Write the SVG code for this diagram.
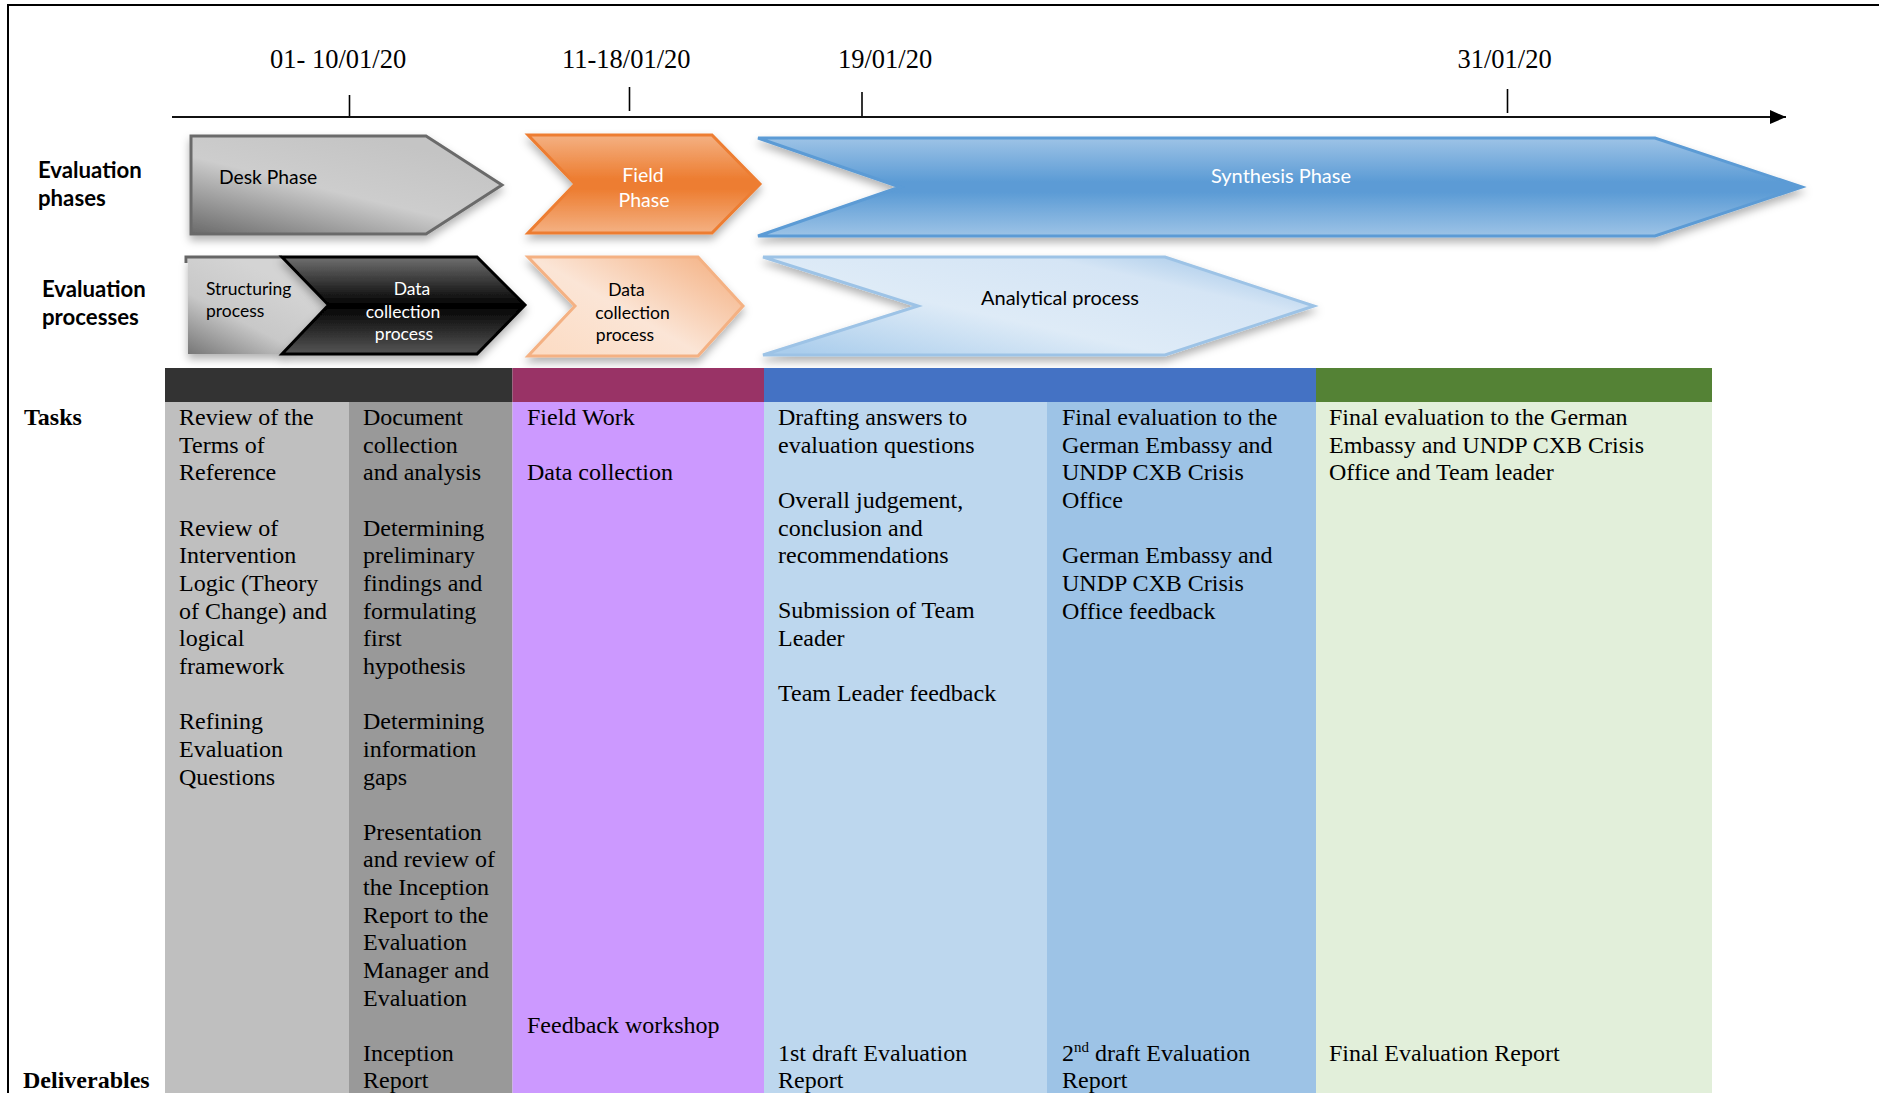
<svg xmlns="http://www.w3.org/2000/svg" width="1879" height="1093" viewBox="0 0 1879 1093">
<defs>
<style>
.date{font-family:"Liberation Serif","Times New Roman",serif;font-size:26.5px;fill:#000}
.lbl{font-family:Lato,"Liberation Sans",sans-serif;font-weight:bold;font-size:22.2px;fill:#000}
.sh{font-family:Lato,"Liberation Sans",sans-serif;fill:#000}
.w{fill:#fff}
.t{font-family:"Liberation Serif","Times New Roman",serif;font-size:24px;fill:#000}
.tb{font-family:"Liberation Serif","Times New Roman",serif;font-size:24px;font-weight:bold;fill:#000}
.tick{stroke:#000;stroke-width:1.6}
</style>
<filter id="shadow" x="-10%" y="-20%" width="120%" height="150%">
<feDropShadow dx="0" dy="5" stdDeviation="4" flood-color="#000" flood-opacity="0.3"/>
</filter>
<marker id="arrow" markerUnits="userSpaceOnUse" markerWidth="16" markerHeight="14" refX="16" refY="7" orient="auto">
<path d="M0,0 L16,7 L0,14 z" fill="#000"/>
</marker>
<linearGradient id="gDesk" x1="0" y1="1" x2="0.7" y2="0.1">
<stop offset="0" stop-color="#6a6a6a"/>
<stop offset="0.55" stop-color="#cdcdcd"/>
<stop offset="1" stop-color="#c4c4c4"/>
</linearGradient>
<linearGradient id="gStruct" x1="0" y1="1" x2="0.6" y2="0.2">
<stop offset="0" stop-color="#777"/>
<stop offset="0.5" stop-color="#c8c8c8"/>
<stop offset="1" stop-color="#d4d4d4"/>
</linearGradient>
<linearGradient id="gBlack" x1="0" y1="0" x2="0" y2="1">
<stop offset="0" stop-color="#707070"/>
<stop offset="0.5" stop-color="#000"/>
<stop offset="1" stop-color="#555"/>
</linearGradient>
<linearGradient id="gField" x1="0" y1="0" x2="0" y2="1">
<stop offset="0" stop-color="#f4b183"/>
<stop offset="0.45" stop-color="#ed7d31"/>
<stop offset="0.55" stop-color="#ed7d31"/>
<stop offset="1" stop-color="#f4b183"/>
</linearGradient>
<linearGradient id="gLOr" x1="0" y1="0.9" x2="1" y2="0.1">
<stop offset="0" stop-color="#fcdcc4"/>
<stop offset="0.45" stop-color="#fbe5d6"/>
<stop offset="1" stop-color="#f4b183"/>
</linearGradient>
<linearGradient id="gSyn" x1="0" y1="0" x2="0" y2="1">
<stop offset="0" stop-color="#9dc3e6"/>
<stop offset="0.45" stop-color="#5b9bd5"/>
<stop offset="0.55" stop-color="#5b9bd5"/>
<stop offset="1" stop-color="#9dc3e6"/>
</linearGradient>
<linearGradient id="gAna" x1="0" y1="0.9" x2="1" y2="0.1">
<stop offset="0" stop-color="#aacdec"/>
<stop offset="0.4" stop-color="#deebf7"/>
<stop offset="0.75" stop-color="#d5e5f5"/>
<stop offset="1" stop-color="#9dc3e6"/>
</linearGradient>
</defs>
<rect x="0" y="0" width="1879" height="1093" fill="#fff"/>
<g id="frame" fill="none" stroke="#000" stroke-width="2">
<path d="M8,1093 L8,5 L1879,5"/>
</g>

<g id="timeline">
<line class="tick" x1="349.5" y1="95" x2="349.5" y2="118"/>
<line class="tick" x1="629.5" y1="87" x2="629.5" y2="111"/>
<line class="tick" x1="862" y1="92" x2="862" y2="116"/>
<line class="tick" x1="1507.5" y1="89" x2="1507.5" y2="113"/>
<text class="date" x="270" y="68">01- 10/01/20</text>
<text class="date" x="562" y="68">11-18/01/20</text>
<text class="date" x="838" y="68">19/01/20</text>
<text class="date" x="1457.5" y="68">31/01/20</text>
</g>

<g id="connectors">
<line x1="172" y1="117" x2="1786" y2="117" stroke="#111" stroke-width="2" marker-end="url(#arrow)"/>
</g>

<g id="row-labels">
<text class="lbl" x="38" y="178">Evaluation</text>
<text class="lbl" x="38" y="206">phases</text>
<text class="lbl" x="42" y="297">Evaluation</text>
<text class="lbl" x="42" y="325">processes</text>
</g>

<g id="desk-phase">
<polygon points="191,136 426,136 502,185 426,234 191,234" fill="url(#gDesk)" stroke="#6b6b6b" stroke-width="3" filter="url(#shadow)"/>
<text class="sh" x="219" y="184" font-size="19.3">Desk Phase</text>
</g>
<g id="field-phase">
<polygon points="528,135 712,135 760,184 712,233 528,233 575,184" fill="url(#gField)" stroke="#ed7d31" stroke-width="3" filter="url(#shadow)"/>
<text class="sh w" x="643" y="181.5" font-size="19.5" text-anchor="middle">Field</text>
<text class="sh w" x="644" y="206.5" font-size="19.5" text-anchor="middle">Phase</text>
</g>
<g id="synthesis-phase">
<polygon points="758,138 1655,138 1802,187 1655,236 758,236 900,187" fill="url(#gSyn)" stroke="#5b9bd5" stroke-width="3" filter="url(#shadow)"/>
<text class="sh w" x="1281" y="183" font-size="20" text-anchor="middle">Synthesis Phase</text>
</g>

<g id="structuring-process">
<polygon points="188,257 282,257 328,305 282,354 188,354" fill="url(#gStruct)" filter="url(#shadow)"/>
<path d="M186,263 L186,257 L282,257" fill="none" stroke="#666" stroke-width="3"/>
<text class="sh" x="206" y="294.5" font-size="17.5">Structuring</text>
<text class="sh" x="206" y="316.5" font-size="17.5">process</text>
</g>
<g id="desk-data-collection">
<polygon points="282,257 477,257 525,305 477,354 282,354 328.5,305" fill="url(#gBlack)" stroke="#000" stroke-width="3" filter="url(#shadow)"/>
<text class="sh w" x="412" y="295" font-size="17.5" text-anchor="middle">Data</text>
<text class="sh w" x="403" y="317.5" font-size="17.5" text-anchor="middle">collection</text>
<text class="sh w" x="404" y="340" font-size="17.5" text-anchor="middle">process</text>
</g>
<g id="field-data-collection">
<polygon points="528,257 698,257 743,306 698,356 528,356 575,306" fill="url(#gLOr)" stroke="#f4b183" stroke-width="3" filter="url(#shadow)"/>
<text class="sh" x="626.5" y="295.5" font-size="17.5" text-anchor="middle">Data</text>
<text class="sh" x="632.5" y="318.5" font-size="17.5" text-anchor="middle">collection</text>
<text class="sh" x="625" y="341" font-size="17.5" text-anchor="middle">process</text>
</g>
<g id="analytical-process">
<polygon points="763,257 1165,257 1314,306 1165,355 763,355 918,306" fill="url(#gAna)" stroke="#9dc3e6" stroke-width="3" filter="url(#shadow)"/>
<text class="sh" x="1060" y="305" font-size="20" text-anchor="middle">Analytical process</text>
</g>

<g id="header-bars">
<rect x="165" y="368" width="347.5" height="34" fill="#333333"/>
<rect x="512.5" y="368" width="251.5" height="34" fill="#993366"/>
<rect x="764" y="368" width="552" height="34" fill="#4472c4"/>
<rect x="1316" y="368" width="396" height="34" fill="#548235"/>
</g>

<g id="columns">
<rect x="165" y="402" width="184" height="691" fill="#bfbfbf"/>
<rect x="349" y="402" width="163.5" height="691" fill="#999999"/>
<rect x="512.5" y="402" width="251.5" height="691" fill="#cc99ff"/>
<rect x="764" y="402" width="283" height="691" fill="#bdd7ee"/>
<rect x="1047" y="402" width="269" height="691" fill="#9dc3e6"/>
<rect x="1316" y="402" width="396" height="691" fill="#e2efda"/>
</g>

<g id="table-labels">
<text class="tb" x="24" y="425">Tasks</text>
<text class="tb" x="23" y="1088">Deliverables</text>
</g>

<g id="col-desk-structuring">
<text class="t" x="179" y="425">Review of the</text>
<text class="t" x="179" y="452.7">Terms of</text>
<text class="t" x="179" y="480.3">Reference</text>
<text class="t" x="179" y="535.6">Review of</text>
<text class="t" x="179" y="563.3">Intervention</text>
<text class="t" x="179" y="590.9">Logic (Theory</text>
<text class="t" x="179" y="618.6">of Change) and</text>
<text class="t" x="179" y="646.2">logical</text>
<text class="t" x="179" y="673.9">framework</text>
<text class="t" x="179" y="729.2">Refining</text>
<text class="t" x="179" y="756.8">Evaluation</text>
<text class="t" x="179" y="784.5">Questions</text>
</g>

<g id="col-desk-data">
<text class="t" x="363" y="425">Document</text>
<text class="t" x="363" y="452.7">collection</text>
<text class="t" x="363" y="480.3">and analysis</text>
<text class="t" x="363" y="535.6">Determining</text>
<text class="t" x="363" y="563.3">preliminary</text>
<text class="t" x="363" y="590.9">findings and</text>
<text class="t" x="363" y="618.6">formulating</text>
<text class="t" x="363" y="646.2">first</text>
<text class="t" x="363" y="673.9">hypothesis</text>
<text class="t" x="363" y="729.2">Determining</text>
<text class="t" x="363" y="756.8">information</text>
<text class="t" x="363" y="784.5">gaps</text>
<text class="t" x="363" y="839.8">Presentation</text>
<text class="t" x="363" y="867.4">and review of</text>
<text class="t" x="363" y="895.1">the Inception</text>
<text class="t" x="363" y="922.7">Report to the</text>
<text class="t" x="363" y="950.4">Evaluation</text>
<text class="t" x="363" y="978">Manager and</text>
<text class="t" x="363" y="1005.7">Evaluation</text>
<text class="t" x="363" y="1060.5">Inception</text>
<text class="t" x="363" y="1088">Report</text>
</g>

<g id="col-field">
<text class="t" x="527" y="425">Field Work</text>
<text class="t" x="527" y="480.3">Data collection</text>
<text class="t" x="527" y="1033">Feedback workshop</text>
</g>

<g id="col-synthesis-analysis">
<text class="t" x="778" y="425">Drafting answers to</text>
<text class="t" x="778" y="452.7">evaluation questions</text>
<text class="t" x="778" y="508">Overall judgement,</text>
<text class="t" x="778" y="535.6">conclusion and</text>
<text class="t" x="778" y="563.3">recommendations</text>
<text class="t" x="778" y="618">Submission of Team</text>
<text class="t" x="778" y="645.7">Leader</text>
<text class="t" x="778" y="701">Team Leader feedback</text>
<text class="t" x="778" y="1060.5">1st draft Evaluation</text>
<text class="t" x="778" y="1088">Report</text>
</g>

<g id="col-synthesis-review">
<text class="t" x="1062" y="425">Final evaluation to the</text>
<text class="t" x="1062" y="452.7">German Embassy and</text>
<text class="t" x="1062" y="480.3">UNDP CXB Crisis</text>
<text class="t" x="1062" y="508">Office</text>
<text class="t" x="1062" y="563.3">German Embassy and</text>
<text class="t" x="1062" y="590.9">UNDP CXB Crisis</text>
<text class="t" x="1062" y="618.6">Office feedback</text>
<text class="t" x="1062" y="1060.5">2<tspan font-size="15" dy="-9">nd</tspan><tspan dy="9"> draft Evaluation</tspan></text>
<text class="t" x="1062" y="1088">Report</text>
</g>

<g id="col-final">
<text class="t" x="1329" y="425">Final evaluation to the German</text>
<text class="t" x="1329" y="452.7">Embassy and UNDP CXB Crisis</text>
<text class="t" x="1329" y="480.3">Office and Team leader</text>
<text class="t" x="1329" y="1060.5">Final Evaluation Report</text>
</g>
</svg>
